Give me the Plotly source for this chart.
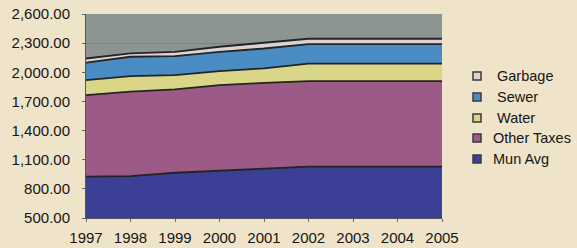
import plotly.graph_objects as go

years = [1997, 1998, 1999, 2000, 2001, 2002, 2003, 2004, 2005]
mun_avg = [925, 932, 966, 987, 1001, 1028, 1028, 1028, 1028]
other_taxes = [840, 868, 858, 881, 891, 882, 882, 882, 882]
water = [155, 161, 147, 144, 148, 180, 180, 180, 180]
sewer = [180, 199, 196, 199, 205, 200, 200, 200, 200]
garbage = [42, 35, 44, 52, 59, 55, 55, 55, 55]
y_ticks = [500, 800, 1100, 1400, 1700, 2000, 2300, 2600]

series = [
    ("Mun Avg", mun_avg, "#3c3f96"),
    ("Other Taxes", other_taxes, "#9c5a86"),
    ("Water", water, "#d9d787"),
    ("Sewer", sewer, "#4a8cc4"),
    ("Garbage", garbage, "#dcd4d2"),
]
legend_labels = {"Garbage": " Garbage", "Sewer": " Sewer", "Water": " Water",
                 "Other Taxes": "Other Taxes", "Mun Avg": "Mun Avg"}

W, H = 577, 248
L, R, T, B = 86, 135, 14, 30
PW, PH = W - L - R, H - T - B


def px(x):
    return (x - L) / PW


def py(y):
    return 1 - (y - T) / PH


fig = go.Figure()
for name, vals, col in series:
    fig.add_trace(go.Scatter(
        x=years, y=vals, name=name, stackgroup="one", mode="lines",
        line=dict(color="#242424", width=1.8), fillcolor=col,
        showlegend=False,
    ))

# manual legend (pixel positions converted to paper coordinates)
row_y = [76, 97, 118, 138, 159]
for (name, vals, col), yp in zip(reversed(series), row_y):
    fig.add_shape(type="rect", xref="paper", yref="paper",
                  x0=px(473), x1=px(481), y0=py(yp + 4), y1=py(yp - 4),
                  fillcolor=col, line=dict(color="#3a3a3a", width=1.5))
    fig.add_annotation(xref="paper", yref="paper", x=px(491), y=py(yp),
                       xanchor="left", yanchor="middle", showarrow=False,
                       text=legend_labels[name],
                       font=dict(size=14.5, color="#151515"))

fig.update_layout(
    width=W, height=H,
    margin=dict(l=L, r=R, t=T, b=B, autoexpand=False),
    paper_bgcolor="#efe3c9",
    plot_bgcolor="#8c9592",
    font=dict(family="Liberation Sans, Arial, sans-serif", size=15, color="#151515"),
    showlegend=False,
    xaxis=dict(
        range=[1997, 2005], tickvals=years, ticks="outside", ticklen=3,
        tickcolor="#666", showgrid=False, zeroline=False,
        showline=True, linecolor="#555", linewidth=1,
        tickfont=dict(size=15), automargin=False, ticklabelstandoff=3,
    ),
    yaxis=dict(
        range=[500, 2600], tickvals=y_ticks, tickformat=",.2f",
        ticks="outside", ticklen=3, tickcolor="#666",
        showgrid=True, gridcolor="#7b8581", gridwidth=1, zeroline=False,
        showline=True, linecolor="#555", linewidth=1,
        tickfont=dict(size=15), automargin=False, ticklabelstandoff=9,
    ),
)

fig.write_html("out.html", config={"displayModeBar": False},
               post_script="document.body.style.margin='0';document.body.style.background='#efe3c9';")
